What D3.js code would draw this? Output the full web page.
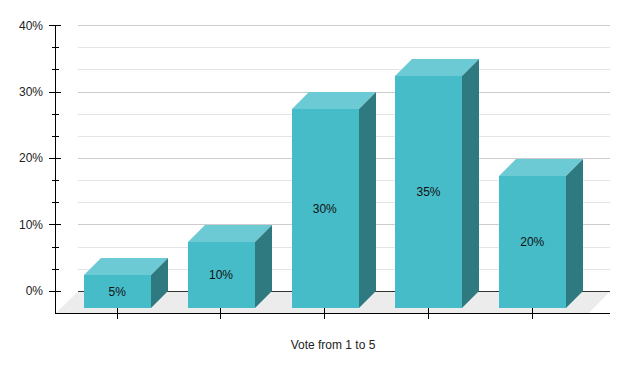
<!DOCTYPE html>
<html>
<head>
<meta charset="utf-8">
<script src="https://d3js.org/d3.v7.min.js"></script>
<style>
  body { margin: 0; background: #fff; }
  svg { display: block; font-family: "Liberation Sans", Arial, sans-serif; }
</style>
</head>
<body>
<div id="chart"></div>
<script>
const categories = ["1", "2", "3", "4", "5"];
const barHeights = [5, 10, 30, 35, 20]; // drawn height, in axis percent
const barLabels = ["5%", "10%", "30%", "35%", "20%"];
const majorTicks = [0, 10, 20, 30, 40];
const minorTicks = [3.33, 6.67, 13.33, 16.67, 23.33, 26.67, 33.33, 36.67];

const width = 629, height = 371;
const depth = 17;
const frontDrop = 17.5;
const plotLeft = 55, plotRight = 610;

const svg = d3.select("#chart").append("svg")
    .attr("width", width)
    .attr("height", height);

const y = d3.scaleLinear().domain([0, 40]).range([290.8, 25.2]);
const x = d3.scaleBand().domain(categories).range([65.9, 584.65])
    .paddingInner(0.35).paddingOuter(0.175);

const snap = v => Math.round(v) + 0.5;
const floorY = snap(y(0));
const axisY = floorY + 22;

// floor
svg.append("polygon")
    .attr("fill", "#ececec")
    .attr("points", [[plotLeft + 0.5, axisY], [plotLeft + 23, floorY], [plotRight, floorY], [plotRight - 21.5, axisY]].join(" "));

// grid lines
svg.append("g").selectAll("line")
    .data(minorTicks)
    .join("line")
    .attr("x1", plotLeft + 23).attr("x2", plotRight)
    .attr("y1", d => snap(y(d))).attr("y2", d => snap(y(d)))
    .attr("stroke", "#e4e4e4");

svg.append("g").selectAll("line")
    .data(majorTicks.filter(d => d > 0))
    .join("line")
    .attr("x1", plotLeft + 23).attr("x2", plotRight)
    .attr("y1", d => snap(y(d))).attr("y2", d => snap(y(d)))
    .attr("stroke", "#cccccc");

// zero line at the back of the floor
svg.append("line")
    .attr("x1", plotLeft + 23).attr("x2", plotRight)
    .attr("y1", floorY).attr("y2", floorY)
    .attr("stroke", "#333");

// left axis
svg.append("line")
    .attr("x1", plotLeft + 0.5).attr("x2", plotLeft + 0.5)
    .attr("y1", snap(y(40))).attr("y2", axisY)
    .attr("stroke", "#000");

svg.append("g").selectAll("line")
    .data(majorTicks)
    .join("line")
    .attr("x1", plotLeft - 6).attr("x2", plotLeft + 6)
    .attr("y1", d => snap(y(d))).attr("y2", d => snap(y(d)))
    .attr("stroke", "#000");

svg.append("g").selectAll("line")
    .data(minorTicks)
    .join("line")
    .attr("x1", plotLeft - 3).attr("x2", plotLeft + 4)
    .attr("y1", d => snap(y(d))).attr("y2", d => snap(y(d)))
    .attr("stroke", "#000");

svg.append("g").selectAll("text")
    .data(majorTicks)
    .join("text")
    .attr("x", plotLeft - 12)
    .attr("y", d => y(d) + 4.4)
    .attr("text-anchor", "end")
    .attr("font-size", 12)
    .attr("fill", "#222")
    .text(d => d + "%");

// bars, on whole pixels so the faces join without a seam
const bars = svg.append("g").selectAll("g")
    .data(categories.map((c, i) => ({ c, h: barHeights[i], label: barLabels[i] })))
    .join("g");

const barW = Math.floor(x.bandwidth());
const left = d => Math.round(x(d.c));
const yFront = d => Math.round(y(d.h) + frontDrop);
const bottom = Math.round(y(0) + frontDrop);

bars.append("polygon") // top
    .attr("fill", "#6bcad3")
    .attr("points", d => {
        const x0 = left(d), x1 = x0 + barW, t = yFront(d);
        return [[x0, t], [x0 + depth, t - depth], [x1 + depth, t - depth], [x1, t]].join(" ");
    });

bars.append("polygon") // side
    .attr("fill", "#2e7a80")
    .attr("points", d => {
        const x1 = left(d) + barW, t = yFront(d);
        return [[x1, t], [x1 + depth, t - depth], [x1 + depth, bottom - depth], [x1, bottom]].join(" ");
    });

bars.append("rect") // front
    .attr("fill", "#46bcc8")
    .attr("x", d => left(d))
    .attr("y", d => yFront(d))
    .attr("width", barW)
    .attr("height", d => bottom - yFront(d));

bars.append("text")
    .attr("x", d => x(d.c) + x.bandwidth() / 2 - 0.5)
    .attr("y", d => Math.floor((yFront(d) + bottom) / 2 + 4.5))
    .attr("text-anchor", "middle")
    .attr("font-size", 12)
    .attr("fill", "#111")
    .text(d => d.label);

// bottom axis
const xAxis = d3.axisBottom(x).tickSize(11).tickSizeOuter(0).tickFormat("");
svg.append("g")
    .attr("transform", `translate(0,${axisY - 5.5})`)
    .call(xAxis)
    .call(g => g.select(".domain").remove())
    .call(g => g.selectAll(".tick")
        .attr("transform", d => `translate(${snap(x(d) + x.bandwidth() / 2 - 1.16)},0)`))
    .call(g => g.selectAll("line").attr("stroke", "#000"));

svg.append("line")
    .attr("x1", plotLeft).attr("x2", plotRight)
    .attr("y1", axisY).attr("y2", axisY)
    .attr("stroke", "#000");

svg.append("text")
    .attr("x", 333)
    .attr("y", 348.5)
    .attr("text-anchor", "middle")
    .attr("font-size", 12)
    .attr("fill", "#222")
    .text("Vote from 1 to 5");
</script>
</body>
</html>
